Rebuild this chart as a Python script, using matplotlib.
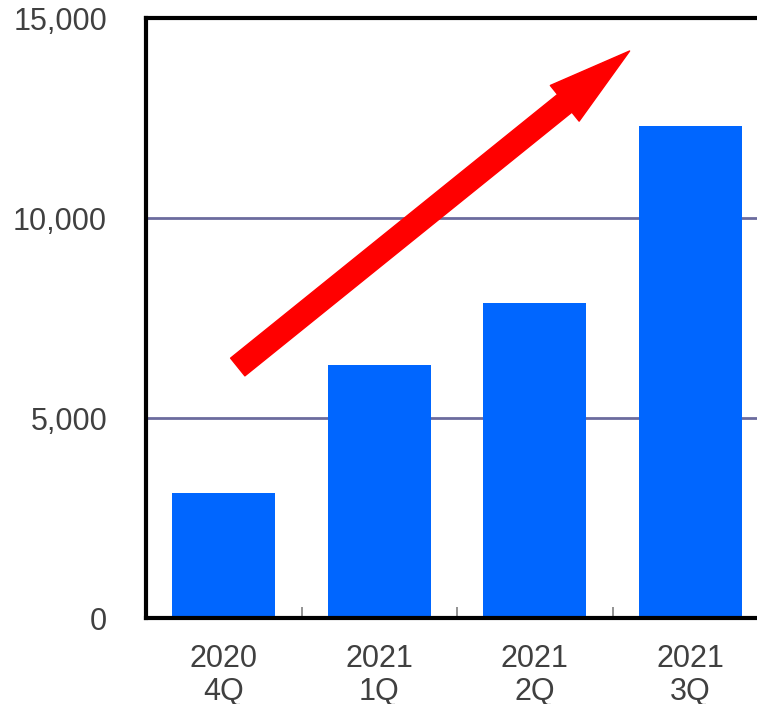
import matplotlib.pyplot as plt

plt.rcParams['font.family'] = ['Liberation Sans', 'DejaVu Sans']

# quarterly values
years = ['2020', '2021', '2021', '2021']
quarters = ['4Q', '1Q', '2Q', '3Q']
values = [3125, 6325, 7875, 12300]
labels = [f'{y}\n{q}' for y, q in zip(years, quarters)]

# arrow from / to, data units
arrow_start = (0.09, 6275)
arrow_end = (2.61, 14175)

fig = plt.figure(figsize=(7.57, 7.04), dpi=100)
ax = fig.add_axes([146 / 757, 1 - 618 / 704, 622 / 757, 600 / 704])

x = range(len(values))
ax.bar(x, values, width=0.66, color='#0066ff', zorder=3)

ax.set_xlim(-0.5, 3.5)
ax.set_ylim(0, 15000)
ax.set_yticks([0, 5000, 10000, 15000])
ax.set_yticklabels([f'{v:,}' for v in [0, 5000, 10000, 15000]])
ax.set_xticks(list(x))
ax.set_xticklabels(labels, linespacing=1.12)
ax.set_xticks([0.5, 1.5, 2.5], minor=True)

ax.tick_params(axis='y', length=0, pad=28, labelsize=22, labelcolor='#404040')
ax.tick_params(axis='x', which='major', length=0, pad=19, labelsize=22, labelcolor='#404040')
ax.tick_params(axis='x', which='minor', direction='in', length=8, width=1.2, color='#808080')

ax.grid(axis='y', color='#6b6b9e', linewidth=2, zorder=1)
for side in ['left', 'top', 'bottom', 'right']:
    ax.spines[side].set_linewidth(3)
    ax.spines[side].set_color('black')
    ax.spines[side].set_zorder(4)

ax.annotate('', xy=arrow_end, xytext=arrow_start,
            arrowprops=dict(arrowstyle='simple, head_length=3.0, head_width=1.65, tail_width=0.82',
                            mutation_scale=20, color='#ff0000', shrinkA=0, shrinkB=0),
            zorder=5)

fig.savefig('out.png', dpi=100)
